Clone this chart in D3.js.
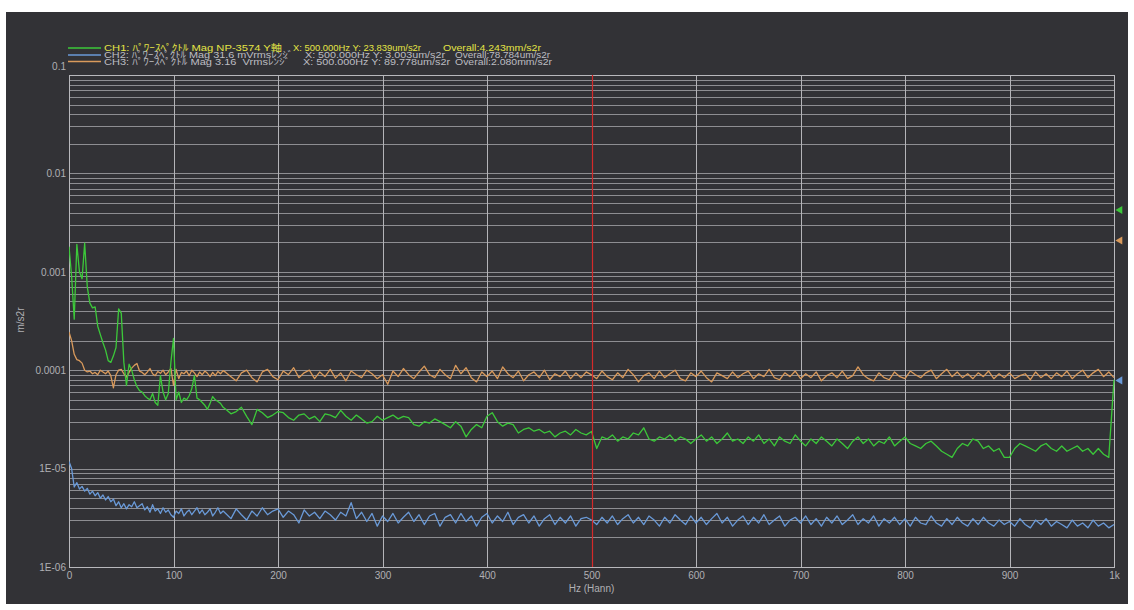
<!DOCTYPE html>
<html>
<head>
<meta charset="utf-8">
<script src="https://cdn.jsdelivr.net/npm/d3@7/dist/d3.min.js"></script>
<style>
  html, body { margin: 0; padding: 0; background: #ffffff; }
  svg { display: block; }
  text { font-family: "Liberation Sans", Arial, "Noto Sans CJK JP", sans-serif; }
</style>
</head>
<body>
<svg id="chart" width="1134" height="610"></svg>
<script>
// Frequency bins (Hz): 2.5 Hz resolution below 150 Hz, 5 Hz above
const freqLow = d3.range(0, 150, 2.5);
const freqHigh = d3.range(150, 1000.001, 5);
const freqs = freqLow.concat(freqHigh);

// Power spectrum magnitudes, um/s2r
const ch1 = [
  1800, 900, 330, 1900, 1000, 850, 1950, 700, 480, 430,
  440, 280, 230, 190, 160, 125, 120, 140, 170, 420,
  380, 120, 70, 115, 100, 80, 68, 62, 60, 55,
  52, 50, 58, 47, 44, 88, 60, 50, 58, 120,
  210, 50, 60, 47, 52, 50, 55, 65, 88, 52,
  50, 47, 44, 40, 46, 54, 50, 48, 46, 42,
  40, 36, 38, 42, 34, 28, 40, 37, 33, 35,
  38, 37, 33, 31, 35, 36, 32, 34, 30, 36,
  35, 33, 39, 34, 31, 35, 32, 29, 30, 34,
  31, 33, 35, 32, 34, 33, 28, 27, 30, 29,
  32, 30, 28, 26, 30, 27, 21, 25, 28, 26,
  34, 37, 30, 27, 29, 28, 23, 25, 26, 24,
  25, 23, 24, 21, 23, 24, 22, 25, 23, 22,
  23.839, 16, 21, 20, 22, 19, 21, 20, 23, 22,
  26, 20, 19, 21, 20, 22, 19, 21, 20, 18,
  20, 22, 19, 21, 18, 20, 23, 19, 20, 18,
  21, 19, 22, 18, 20, 17, 21, 19, 18, 22,
  19, 17, 20, 18, 21, 19, 17, 20, 18, 16,
  19, 21, 18, 20, 17, 19, 18, 21, 17, 19,
  21, 18, 17, 16, 18, 19, 17, 15, 14, 13,
  16, 18, 17, 20, 19, 16, 17, 15, 16, 13,
  13, 16, 18, 17, 16, 15, 17, 18, 16, 15,
  17, 15, 16, 17, 15, 16, 14, 16, 14, 13,
  80
];
const ch2 = [
  11.8, 10, 6.5, 7.2, 6.2, 6.6, 5.9, 6.3, 5.5, 5.9,
  5.3, 5.7, 5.0, 5.4, 4.8, 5.2, 4.6, 4.9, 4.2, 4.6,
  4.0, 4.4, 3.9, 4.3, 4.1, 4.6, 4.0, 4.2, 4.4, 3.8,
  4.1, 3.6, 4.3, 3.7, 3.9, 3.5, 4.0, 3.6, 3.8, 3.4,
  3.2, 3.7, 3.5, 3.9, 3.3, 3.6, 3.8, 3.4, 3.7, 4.0,
  3.5, 3.8, 3.4, 3.6, 3.9, 3.3, 3.6, 4.0, 3.5, 3.7,
  3.5, 3.1, 3.9, 3.4, 3.0, 3.7, 3.3, 4.0, 3.4, 3.7,
  3.9, 3.2, 3.7, 3.4, 2.8, 3.8, 3.3, 3.6, 3.1, 3.7,
  3.4, 3.0, 3.6, 3.3, 4.5, 3.1, 3.6, 2.9, 3.5, 2.6,
  3.3, 2.9, 3.5, 2.8, 3.2, 3.6, 2.9, 3.4, 2.7, 3.3,
  3.5, 2.6, 3.2, 3.4, 2.8, 3.5, 2.9, 3.3, 2.6, 3.2,
  3.5, 2.8, 3.3, 2.9, 3.6, 2.7, 3.2, 3.4, 2.8, 3.3,
  2.6, 3.1, 3.4, 2.7, 3.2, 2.8, 3.3, 2.6, 3.1, 3.2,
  3.003, 2.7, 3.2, 2.8, 3.3, 2.7, 3.1, 3.4, 2.8, 3.2,
  2.7, 3.3, 3.0, 2.6, 3.2, 2.8, 3.4, 3.0, 2.7, 3.3,
  2.8, 3.2, 2.7, 3.1, 3.5, 2.8, 3.2, 2.6, 3.0, 3.3,
  2.7, 3.2, 2.8, 3.4, 2.7, 3.0, 3.3, 2.6, 3.0, 3.2,
  2.8, 3.3, 2.7, 3.1, 2.6, 3.2, 2.8, 3.3, 2.7, 3.0,
  3.4, 2.7, 3.1, 2.8, 3.3, 2.6, 3.1, 2.8, 3.2, 2.7,
  3.1, 2.6, 3.2, 2.8, 2.7, 3.3, 2.8, 2.6, 3.1, 2.7,
  3.2, 2.8, 2.6, 3.1, 2.7, 3.2, 2.8, 2.6, 3.0, 2.7,
  2.9, 2.6, 3.1, 2.7, 2.5, 3.0, 2.7, 3.1, 2.6, 2.9,
  2.7, 2.5, 3.0, 2.6, 2.8, 2.5, 3.0, 2.6, 2.8, 2.5,
  2.7
];
const ch3 = [
  245, 200, 145, 128, 125, 118, 100, 96, 98, 92,
  95, 90, 100, 96, 92, 98, 88, 66, 90, 100,
  102, 92, 85, 95, 105, 112, 117, 98, 95, 90,
  96, 104, 92, 88, 97, 93, 100, 90, 96, 104,
  70, 102, 82, 95, 92, 98, 88, 100, 94, 86,
  96, 90, 98, 93, 86, 95, 88, 97, 92, 99,
  95, 86, 78, 94, 100, 84, 76, 96, 102, 86,
  80, 98, 90, 106, 84, 94, 100, 82, 96, 86,
  102, 83, 94, 78, 98, 90, 84, 100, 92, 82,
  90, 72, 98, 86, 104, 90, 82, 96, 110, 90,
  84, 102, 90, 82, 112, 92, 106, 84, 76, 96,
  86, 98, 82, 108, 92, 84, 98, 78, 90, 96,
  84, 100, 80, 92, 86, 98, 82, 94, 84, 96,
  89.778, 82, 98, 86, 80, 94, 84, 102, 90, 76,
  88, 94, 82, 98, 84, 92, 100, 82, 78, 94,
  86, 98, 84, 76, 94, 88, 82, 96, 84, 92,
  98, 82, 92, 86, 102, 84, 80, 94, 86, 98,
  82, 92, 84, 96, 78, 88, 94, 84, 98, 82,
  88, 108, 90, 82, 78, 94, 84, 80, 96, 86,
  82, 98, 90, 84, 94, 100, 82, 92, 102, 86,
  96, 84, 92, 82, 94, 86, 98, 82, 92, 84,
  94, 82, 88, 92, 80, 96, 84, 92, 82, 94,
  86, 98, 82, 92, 100, 84, 94, 102, 86, 96,
  84
];

// Tick labels
const xTicks = [0, 100, 200, 300, 400, 500, 600, 700, 800, 900, 1000];
const xTickLabels = ["0", "100", "200", "300", "400", "500", "600", "700", "800", "900", "1k"];
const yTicks = [1e-6, 1e-5, 1e-4, 1e-3, 1e-2, 1e-1];
const yTickLabels = ["1E-06", "1E-05", "0.0001", "0.001", "0.01", "0.1"];

// Legend / cursor readouts
const channelNames = [
  "CH1: ﾊﾟﾜｰｽﾍﾟｸﾄﾙ Mag NP-3574 Y軸",
  "CH2: ﾊﾟﾜｰｽﾍﾟｸﾄﾙ Mag 31.6 mVrmsﾚﾝｼﾞ",
  "CH3: ﾊﾟﾜｰｽﾍﾟｸﾄﾙ Mag 3.16  Vrmsﾚﾝｼﾞ"
];
const cursorHz = 500;
const cursorValues = [23.839, 3.003, 89.778];          // um/s2r at the cursor
const overallLabels = ["4.243mm/s2r", "78.784um/s2r", "2.080mm/s2r"];
const overallValues = [4243, 78.784, 2080];              // um/s2r

const series = [ch1, ch2, ch3];
const colors = ["#3cc83a", "#6a9ad8", "#d99a5c"];
const legendTextColors = ["#e4e445", "#bdbdc2", "#bdbdc2"];

const svg = d3.select("#chart");
const W = 1134, H = 610;
const plot = { left: 69, right: 1114, top: 75, bottom: 567 };

// Outer white frame and dark panel
svg.append("rect").attr("width", W).attr("height", H).attr("fill", "#ffffff");
svg.append("rect").attr("x", 6).attr("y", 12).attr("width", 1122).attr("height", 592).attr("fill", "#323236");

const x = d3.scaleLinear().domain([0, 1000]).range([plot.left, plot.right]);
const y = d3.scaleLog().domain([1e-6, 0.1]).range([plot.bottom, plot.top]);
const um = v => v * 1e-6;

// Grid: horizontal log minor lines, vertical every 100 Hz
const grid = svg.append("g");
grid.selectAll("line.h").data(y.ticks()).join("line")
  .attr("x1", plot.left).attr("x2", plot.right)
  .attr("y1", d => Math.round(y(d)) + 0.5).attr("y2", d => Math.round(y(d)) + 0.5)
  .attr("stroke", "#8e8e92").attr("stroke-width", 1);
grid.selectAll("line.v").data(xTicks).join("line")
  .attr("y1", plot.top).attr("y2", plot.bottom)
  .attr("x1", d => Math.round(x(d)) + 0.5).attr("x2", d => Math.round(x(d)) + 0.5)
  .attr("stroke", "#b4b4b8").attr("stroke-width", 1);

// Plot frame
svg.append("rect")
  .attr("x", plot.left + 0.5).attr("y", plot.top + 0.5)
  .attr("width", plot.right - plot.left).attr("height", plot.bottom - plot.top)
  .attr("fill", "none").attr("stroke", "#b8b8bc").attr("stroke-width", 1);

// Axes
const xAxis = d3.axisBottom(x).tickValues(xTicks).tickSize(0).tickPadding(5)
  .tickFormat((d, i) => xTickLabels[i]);
const gx = svg.append("g").attr("transform", `translate(0,${plot.bottom})`).call(xAxis);
gx.select(".domain").remove();
gx.selectAll("text").attr("fill", "#b0b0b4").attr("font-size", 10);

const yAxis = d3.axisLeft(y).tickValues(yTicks).tickSize(0).tickPadding(3)
  .tickFormat((d, i) => yTickLabels[i]);
const gy = svg.append("g").attr("transform", `translate(${plot.left},0)`).call(yAxis);
gy.select(".domain").remove();
gy.selectAll("text").attr("fill", "#b0b0b4").attr("font-size", 10);
// top label sits just above the frame
gy.selectAll(".tick").filter(d => d === 0.1).select("text").attr("dy", "-0.6em");

// Axis titles
svg.append("text").attr("x", x(500)).attr("y", 592).attr("text-anchor", "middle")
  .attr("fill", "#b0b0b4").attr("font-size", 10).text("Hz (Hann)");
svg.append("text").attr("transform", "translate(24,320) rotate(-90)").attr("text-anchor", "middle")
  .attr("fill", "#b0b0b4").attr("font-size", 10).text("m/s2r");

// Clip for the traces
svg.append("clipPath").attr("id", "plotclip").append("rect")
  .attr("x", plot.left).attr("y", plot.top)
  .attr("width", plot.right - plot.left + 1).attr("height", plot.bottom - plot.top);

const line = d3.line().x((d, i) => x(freqs[i])).y(d => y(um(d)));
const traces = svg.append("g").attr("clip-path", "url(#plotclip)");
// draw CH3, CH2 first so CH1 is on top
[2, 1, 0].forEach(k => {
  traces.append("path").datum(series[k])
    .attr("d", line).attr("fill", "none")
    .attr("stroke", colors[k]).attr("stroke-width", 1.3)
    .attr("stroke-linejoin", "round");
});

// Cursor
svg.append("line")
  .attr("x1", Math.round(x(cursorHz)) + 0.5).attr("x2", Math.round(x(cursorHz)) + 0.5)
  .attr("y1", plot.top).attr("y2", plot.bottom)
  .attr("stroke", "#d42a2a").attr("stroke-width", 1.2);

// Overall level markers on the right edge
svg.selectAll("path.marker").data(overallValues).join("path")
  .attr("d", d3.symbol(d3.symbolTriangle, 28)())
  .attr("transform", d => `translate(${plot.right + 6},${y(um(d))}) rotate(-90)`)
  .attr("fill", (d, i) => colors[i]);

// Legend: name, cursor readout and overall level per channel
const legendRows = [48, 55, 61.5];
const segSpans = [
  [[104, 282], [293, 421], [443, 541]],
  [[104, 293], [305, 445], [455, 550]],
  [[104, 290], [303, 450], [455, 552]]
];
const legend = svg.append("g");
channelNames.forEach((name, i) => {
  const yy = legendRows[i];
  legend.append("line").attr("x1", 68).attr("x2", 101)
    .attr("y1", yy).attr("y2", yy).attr("stroke", colors[i]).attr("stroke-width", 1.5);
  const parts = [
    name,
    `X: ${cursorHz.toFixed(3)}Hz Y: ${cursorValues[i].toFixed(3)}um/s2r`,
    `Overall:${overallLabels[i]}`
  ];
  parts.forEach((p, j) => {
    const [a, b] = segSpans[i][j];
    legend.append("text").attr("x", a).attr("y", yy).attr("dy", "0.35em")
      .attr("fill", legendTextColors[i]).attr("font-size", 9)
      .attr("textLength", b - a).attr("lengthAdjust", "spacingAndGlyphs")
      .attr("xml:space", "preserve").text(p);
  });
});
</script>
</body>
</html>
